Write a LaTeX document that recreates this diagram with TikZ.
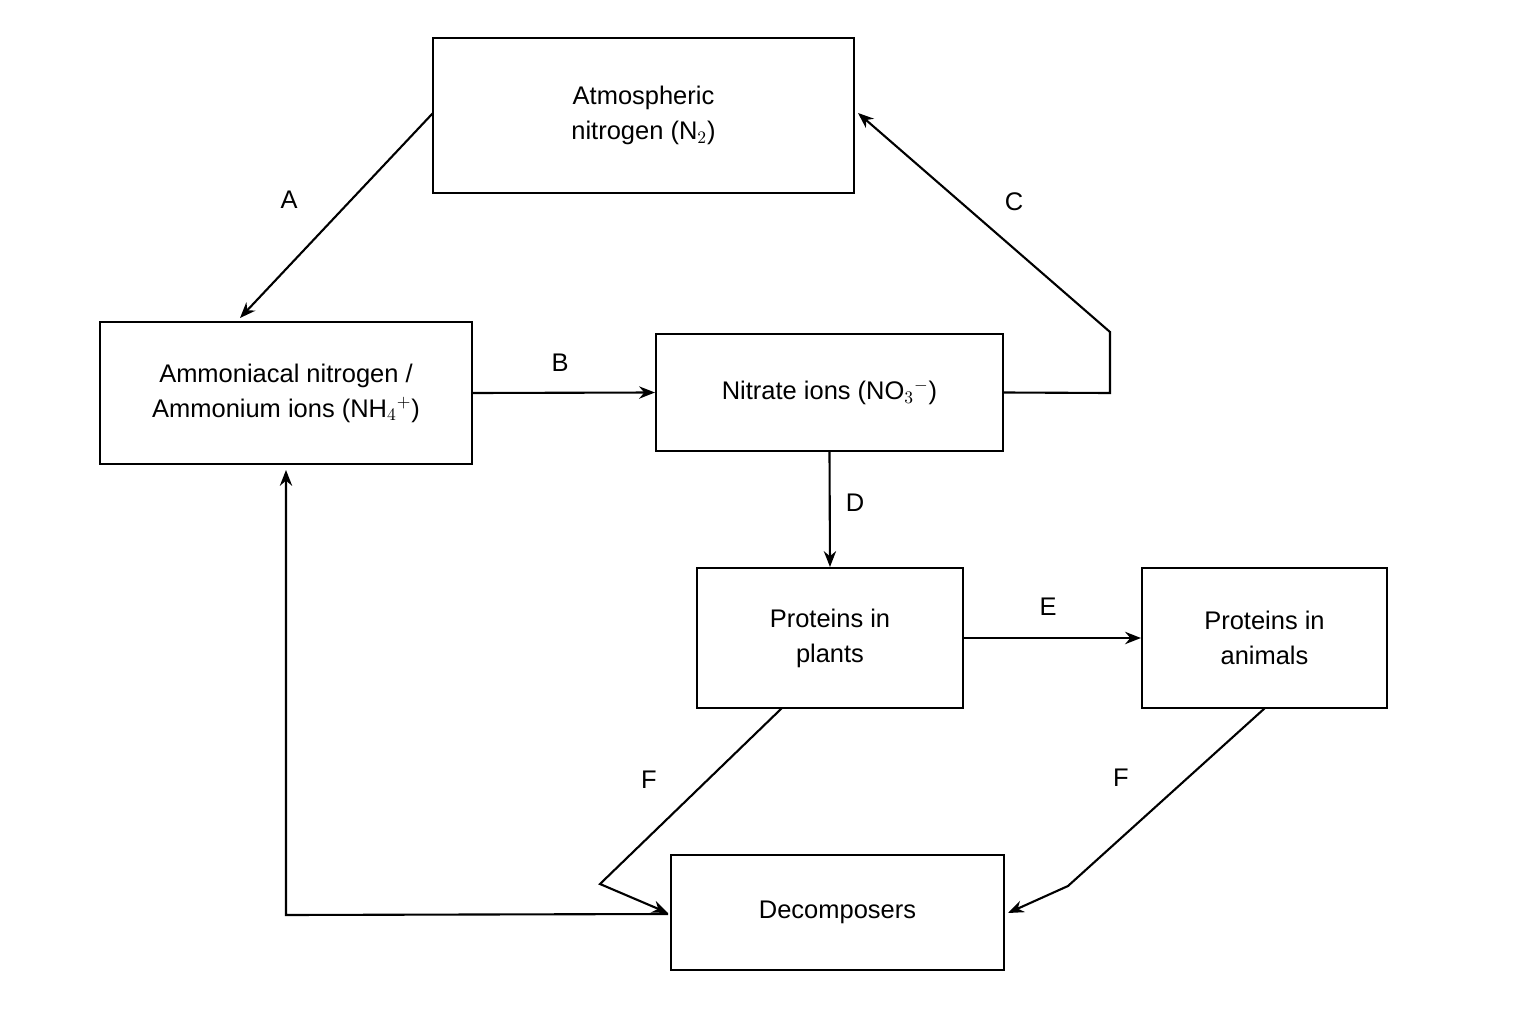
\documentclass[tikz,border=0pt]{standalone}
\usepackage{fontspec}
\setmainfont{Liberation Sans}
\usetikzlibrary{arrows.meta}
\begin{document}
\begin{tikzpicture}[x=0.02cm,y=-0.02cm,
box/.style={draw,line width=1.2pt,align=center,font=\fontsize{14.5}{20}\selectfont,inner sep=0pt},
con/.style={line width=1.2pt,-{Stealth[length=9pt,width=7pt]}},
lab/.style={font=\fontsize{14.5}{18}\selectfont}]
\useasboundingbox (0,0) rectangle (1536,1024);
\node[box,minimum width=421*0.02cm,minimum height=155*0.02cm] (atm) at (643.5,115.5) {Atmospheric\\nitrogen (N$_2$)};
\node[box,minimum width=372*0.02cm,minimum height=142*0.02cm] (amm) at (286,393) {Ammoniacal nitrogen /\\Ammonium ions (NH$_4{}^{+}$)};
\node[box,minimum width=347*0.02cm,minimum height=117*0.02cm] (nit) at (829.5,392.5) {Nitrate ions (NO$_3{}^{-}$)};
\node[box,minimum width=266*0.02cm,minimum height=140*0.02cm] (pl) at (830,638) {Proteins in\\plants};
\node[box,minimum width=245*0.02cm,minimum height=140*0.02cm] (an) at (1264.5,638) {Proteins in\\animals};
\node[box,minimum width=333*0.02cm,minimum height=115*0.02cm] (dec) at (837.5,912.5) {Decomposers};
\coordinate (a1) at (433,113); \coordinate (a2) at (240,318);
\coordinate (c1) at (1110,393); \coordinate (c2) at (1110,332); \coordinate (c3) at (858,113);
\coordinate (f1) at (782,708); \coordinate (f2) at (600,884); \coordinate (f3) at (668,913);
\coordinate (g1) at (1265,708); \coordinate (g2) at (1068,886); \coordinate (g3) at (1008,913);
\coordinate (h1) at (668,914); \coordinate (h2) at (286,915); \coordinate (h3) at (286,470);
\draw[con] (a1) -- (a2);
\draw[con] (amm.east) -- (nit.west);
\draw[con] (nit.east) -- (c1) -- (c2) -- (c3);
\draw[con] (nit.south) -- (pl.north);
\draw[con] (pl.east) -- (an.west);
\draw[con] (f1) -- (f2) -- (f3);
\draw[con] (g1) -- (g2) -- (g3);
\draw[con] (h1) -- (h2) -- (h3);
\node[lab] (la) at (289,200) {A};
\node[lab] (lb) at (560,363) {B};
\node[lab] (lc) at (1014,202) {C};
\node[lab] (ld) at (855,503) {D};
\node[lab] (le) at (1048,607) {E};
\node[lab] (lf1) at (649,780) {F};
\node[lab] (lf2) at (1121,778) {F};
\end{tikzpicture}
\end{document}
